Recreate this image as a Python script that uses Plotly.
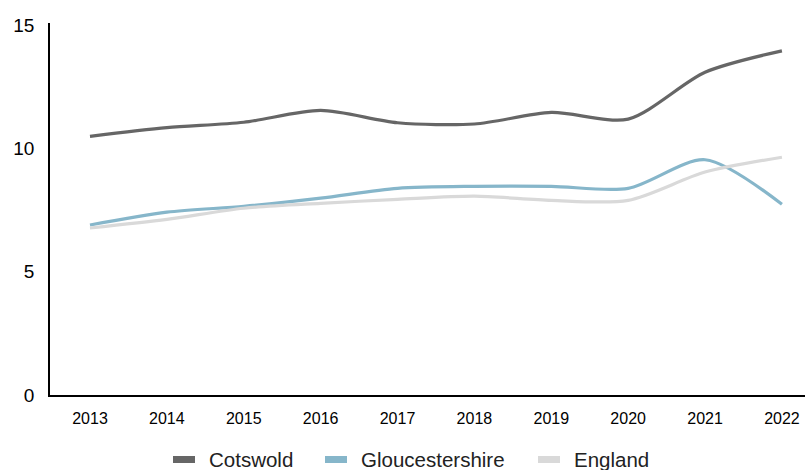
import plotly.graph_objects as go

years = ["2013", "2014", "2015", "2016", "2017", "2018", "2019", "2020", "2021", "2022"]
cotswold = [10.5, 10.85, 11.07, 11.55, 11.05, 11.0, 11.47, 11.2, 13.1, 13.97]
gloucestershire = [6.9, 7.42, 7.66, 7.99, 8.39, 8.47, 8.47, 8.39, 9.55, 7.74]
england = [6.78, 7.13, 7.58, 7.78, 7.94, 8.07, 7.9, 7.9, 9.05, 9.65]

series = [
    ("Cotswold", cotswold, "#666666"),
    ("Gloucestershire", gloucestershire, "#86b6ca"),
    ("England", england, "#d9d9d9"),
]

W, H = 805, 470
L, R, T, B = 50, 0, 23, 75
plot_w, plot_h = W - L - R, H - T - B


def px_to_paper(px, py):
    return (px - L) / plot_w, (H - B - py) / plot_h


fig = go.Figure()
for name, vals, color in series:
    fig.add_trace(go.Scatter(
        x=years, y=vals, name=name, mode="lines", showlegend=False,
        line=dict(color=color, width=3.2, shape="spline", smoothing=0.8),
    ))

# hand-placed legend: short thick swatch followed by label
legend_x = [173, 325, 538]
shapes, annotations = [], []
for (name, _, color), sx in zip(series, legend_x):
    x0, y0 = px_to_paper(sx, 463)
    x1, y1 = px_to_paper(sx + 22, 456)
    shapes.append(dict(type="rect", xref="paper", yref="paper",
                       x0=x0, y0=y0, x1=x1, y1=y1,
                       fillcolor=color, line=dict(width=0)))
    tx, ty = px_to_paper(sx + 34, 459)
    annotations.append(dict(xref="paper", yref="paper", x=tx, y=ty,
                            xanchor="left", yanchor="middle", showarrow=False,
                            text=name, font=dict(size=20.5, color="#222222")))

fig.update_layout(
    width=W, height=H,
    margin=dict(l=L, r=R, t=T, b=B),
    paper_bgcolor="white", plot_bgcolor="white",
    font=dict(family="Liberation Sans, Arial, sans-serif", color="#000000"),
    showlegend=False,
    shapes=shapes,
    annotations=annotations,
    xaxis=dict(
        type="category", range=[-0.52, 9.3],
        showline=True, linecolor="#000000", linewidth=1.5,
        showgrid=False, ticks="", tickfont=dict(size=16),
        ticklabelstandoff=8,
    ),
    yaxis=dict(
        range=[0, 15.1], tickvals=[0, 5, 10, 15],
        showline=True, linecolor="#000000", linewidth=1.5,
        showgrid=False, zeroline=False, ticks="", tickfont=dict(size=19),
        ticklabelstandoff=10,
    ),
)

fig.write_html("out.html")
